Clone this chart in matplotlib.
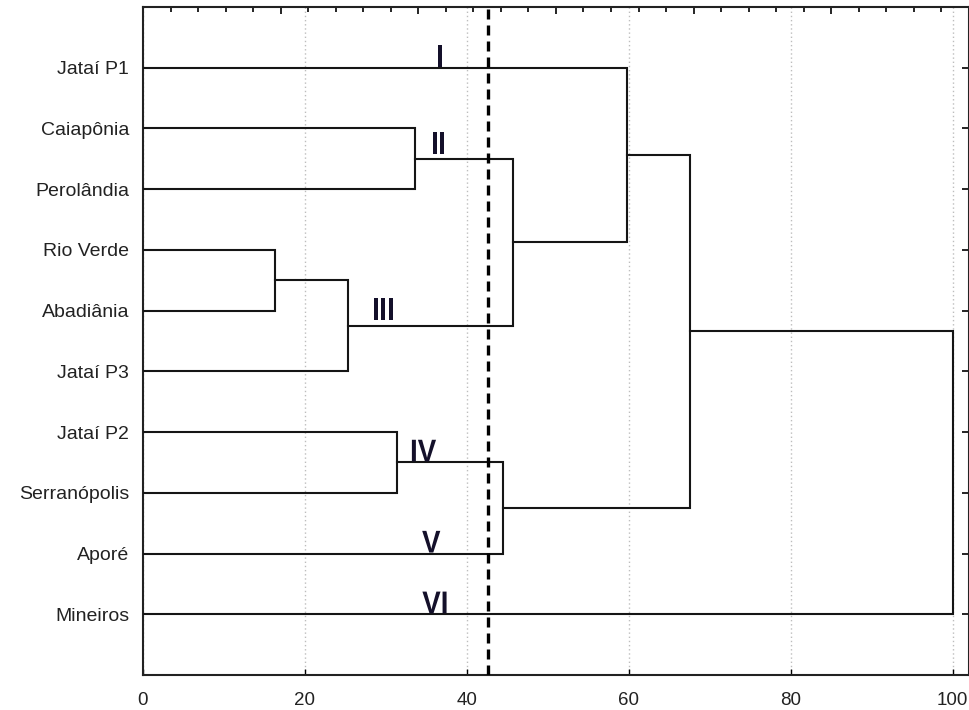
import matplotlib
matplotlib.use("Agg")
import matplotlib.pyplot as plt
import matplotlib.transforms as mtransforms
import numpy as np
from matplotlib.textpath import TextPath
from matplotlib.patches import PathPatch
from matplotlib.font_manager import FontProperties

# leaves, top to bottom
leaves = ["Jataí P1", "Caiapônia", "Perolândia", "Rio Verde", "Abadiânia",
          "Jataí P3", "Jataí P2", "Serranópolis", "Aporé", "Mineiros"]

# merges: (node a, node b, linkage distance); new nodes numbered from 10
merge_a = [3, 10, 1, 6, 12, 13, 0, 16, 17]
merge_b = [4, 5, 2, 7, 11, 8, 14, 15, 9]
merge_h = [16.3, 25.3, 33.6, 31.4, 45.7, 44.5, 59.8, 67.5, 100.0]

cut_value = 42.6

groups = ["I", "II", "III", "IV", "V", "VI"]
group_x = [36.7, 36.5, 29.7, 34.7, 35.6, 36.0]
group_y = [1.0, 2.4375, 5.17, 7.5, 9.0, 10.0]

plt.rcParams["font.family"] = ["Liberation Sans", "DejaVu Sans"]

fig = plt.figure(figsize=(9.7, 7.1), dpi=100)
ax = fig.add_axes([0.1474, 0.0493, 0.8515, 0.9409])

# node positions
node_y = list(np.arange(1, len(leaves) + 1, dtype=float))
node_h = [0.0] * len(leaves)
for a, b, h in zip(merge_a, merge_b, merge_h):
    ax.plot([node_h[a], h, h, node_h[b]], [node_y[a], node_y[a], node_y[b], node_y[b]],
            color="#151515", lw=1.5, solid_joinstyle="miter", zorder=3)
    node_y.append((node_y[a] + node_y[b]) / 2)
    node_h.append(h)

ax.axvline(cut_value, color="black", lw=2.4, ls=(0, (3, 1.8)), zorder=4)

# group numerals: slightly condensed bold glyphs, sized in pixels
em_px = 31.5
squeeze = 0.88
prop = FontProperties(family="Liberation Sans", weight="bold")
for g, gx, gy in zip(groups, group_x, group_y):
    tp = TextPath((0, 0), g, size=1, prop=prop)
    ext = tp.get_extents()
    cx = (ext.x0 + ext.x1) / 2
    tr = (mtransforms.Affine2D().translate(-cx, 0).scale(em_px * squeeze, em_px).translate(0, 1)
          + mtransforms.ScaledTranslation(gx, gy, ax.transData))
    ax.add_patch(PathPatch(tp, transform=tr, facecolor="#14102a", edgecolor="none", zorder=5))

ax.set_xlim(0, 102)
ax.set_ylim(11, 0)

ax.set_xticks([0, 20, 40, 60, 80, 100])
ax.tick_params(axis="x", direction="in", length=4, width=1, labelsize=13.5, pad=12,
               labelcolor="#222222")
ax.set_yticks(np.arange(1, len(leaves) + 1))
ax.set_yticklabels(leaves)
ax.tick_params(axis="y", left=False, right=True, direction="in", length=5, width=1.2,
               labelsize=14, pad=10, labelcolor="#222222")
ax.grid(axis="x", color="#bdbdbd", ls=(0, (1, 2)), lw=1)

top = ax.secondary_xaxis("top")
top.set_xticks(np.arange(17, 100, 17))
top.set_xticks(np.arange(3.4, 100, 3.4), minor=True)
top.tick_params(which="major", direction="in", length=5, width=1.2, labeltop=False)
top.tick_params(which="minor", direction="in", length=3.5, width=1.2)
top.set_xticklabels([])
top.spines["top"].set_visible(False)

for s in ax.spines.values():
    s.set_linewidth(1.5)
    s.set_color("#222222")

fig.savefig("out.png", dpi=100)
